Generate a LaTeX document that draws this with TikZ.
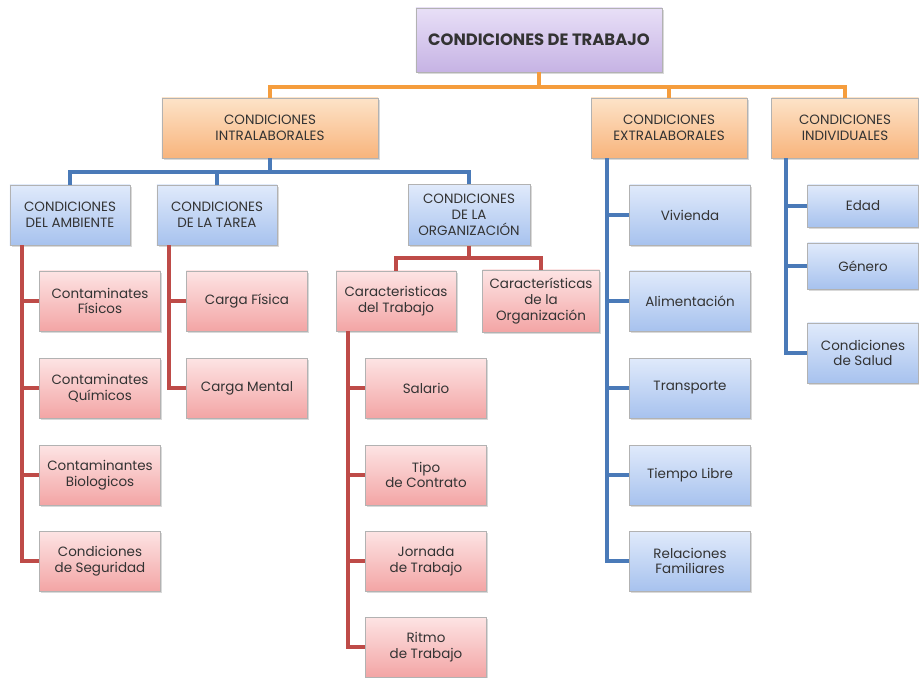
\documentclass[tikz,border=0pt]{standalone}
\usepackage{fontspec}
\setmainfont{Poppins}
\usetikzlibrary{shadows,calc}
\definecolor{lilaA}{HTML}{E8DFF7}
\definecolor{lilaB}{HTML}{C6B3E4}
\definecolor{narA}{HTML}{FDE3C8}
\definecolor{narB}{HTML}{F8B47C}
\definecolor{azA}{HTML}{E0EAFB}
\definecolor{azB}{HTML}{A7C2EE}
\definecolor{roA}{HTML}{FDE4E4}
\definecolor{roB}{HTML}{F3A5A5}
\definecolor{narL}{HTML}{F59D3D}
\definecolor{azL}{HTML}{4A7AB8}
\definecolor{roL}{HTML}{BE4B48}

\begin{document}
\begin{tikzpicture}[x=0.03cm,y=-0.03cm,
  caja/.style={draw=black!30, align=center, inner sep=1pt, text=black!80,
    font=\fontsize{11.5}{13.5}\selectfont, minimum width=3.6cm, minimum height=1.8cm,
    drop shadow={shadow xshift=1.5pt,shadow yshift=-1.5pt,opacity=.3}},
  lila/.style={caja, top color=lilaA, bottom color=lilaB},
  naranja/.style={caja, top color=narA, bottom color=narB},
  azul/.style={caja, top color=azA, bottom color=azB},
  rosa/.style={caja, top color=roA, bottom color=roB, minimum width=3.63cm},
  lnar/.style={draw=narL, line width=3.4pt},
  laz/.style={draw=azL, line width=3.4pt},
  lro/.style={draw=roL, line width=3.4pt}]
  \useasboundingbox (0,0) rectangle (919,678);
  % nivel 1 y 2
  \node[lila, minimum width=7.38cm, minimum height=1.92cm, font=\fontsize{14}{16}\selectfont\bfseries] (root) at (539,40) {CONDICIONES DE TRABAJO};
  \node[naranja, minimum width=6.48cm] (intra) at (270,128) {CONDICIONES\\INTRALABORALES};
  \node[naranja, minimum width=4.68cm] (extra) at (669,128) {CONDICIONES\\EXTRALABORALES};
  \node[naranja, minimum width=4.41cm] (indiv) at (845,128) {CONDICIONES\\INDIVIDUALES};
  % intralaborales
  \node[azul] (amb) at (70,215) {CONDICIONES\\DEL AMBIENTE};
  \node[azul] (tarea) at (217,215) {CONDICIONES\\DE LA TAREA};
  \node[azul, minimum width=3.66cm, minimum height=1.83cm] (org) at (469,215) {CONDICIONES\\DE LA\\ORGANIZACIÓN};
  \node[rosa] (f1) at (100,301) {Contaminates\\Físicos};
  \node[rosa] (f2) at (100,388) {Contaminates\\Químicos};
  \node[rosa] (f3) at (100,475) {Contaminantes\\Biologicos};
  \node[rosa] (f4) at (100,561) {Condiciones\\de Seguridad};
  \node[rosa] (t1) at (247,301) {Carga Física};
  \node[rosa] (t2) at (247,388) {Carga Mental};
  \node[rosa, minimum width=3.6cm] (ctrab) at (396,301) {Caracteristicas\\del Trabajo};
  \node[rosa, minimum width=3.51cm, minimum height=1.86cm] (corg) at (541,301) {Características\\de la\\Organización};
  \node[rosa] (s1) at (426,388) {Salario};
  \node[rosa] (s2) at (426,475) {Tipo\\de Contrato};
  \node[rosa] (s3) at (426,561) {Jornada\\de Trabajo};
  \node[rosa] (s4) at (426,647) {Ritmo\\de Trabajo};
  % extralaborales
  \node[azul, minimum width=3.63cm] (e1) at (690,215) {Vivienda};
  \node[azul, minimum width=3.63cm] (e2) at (690,301) {Alimentación};
  \node[azul, minimum width=3.63cm] (e3) at (690,388) {Transporte};
  \node[azul, minimum width=3.63cm] (e4) at (690,475) {Tiempo Libre};
  \node[azul, minimum width=3.63cm] (e5) at (690,561) {Relaciones\\Familiares};
  % individuales
  \node[azul, minimum width=3.33cm, minimum height=1.26cm] (i1) at (863,206) {Edad};
  \node[azul, minimum width=3.33cm, minimum height=1.38cm] (i2) at (863,266) {Género};
  \node[azul, minimum width=3.33cm] (i3) at (863,353) {Condiciones\\de Salud};
  % conectores
  \coordinate (bn) at (539,87);
  \draw[lnar] (root.south) -- (bn);
  \draw[lnar] (bn) -| (intra.north);
  \draw[lnar] (bn) -| (extra.north);
  \draw[lnar] (bn) -| (indiv.north);
  \coordinate (ba) at (270,172);
  \draw[laz] (intra.south) -- (ba);
  \draw[laz] (ba) -| (amb.north);
  \draw[laz] (ba) -| (tarea.north);
  \draw[laz] (ba) -| (org.north);
  \coordinate (br) at (469,258);
  \draw[lro] (org.south) -- (br);
  \draw[lro] (br) -| (ctrab.north);
  \draw[lro] (br) -| (corg.north);
  \foreach \n in {f1,f2,f3,f4}
    \draw[lro] ($(amb.south west)+(12,0)$) |- (\n.west);
  \foreach \n in {t1,t2}
    \draw[lro] ($(tarea.south west)+(12,0)$) |- (\n.west);
  \foreach \n in {s1,s2,s3,s4}
    \draw[lro] ($(ctrab.south west)+(12,0)$) |- (\n.west);
  \foreach \n in {e1,e2,e3,e4,e5}
    \draw[laz] ($(extra.south west)+(16,0)$) |- (\n.west);
  \foreach \n in {i1,i2,i3}
    \draw[laz] ($(indiv.south west)+(15,0)$) |- (\n.west);
\end{tikzpicture}
\end{document}
